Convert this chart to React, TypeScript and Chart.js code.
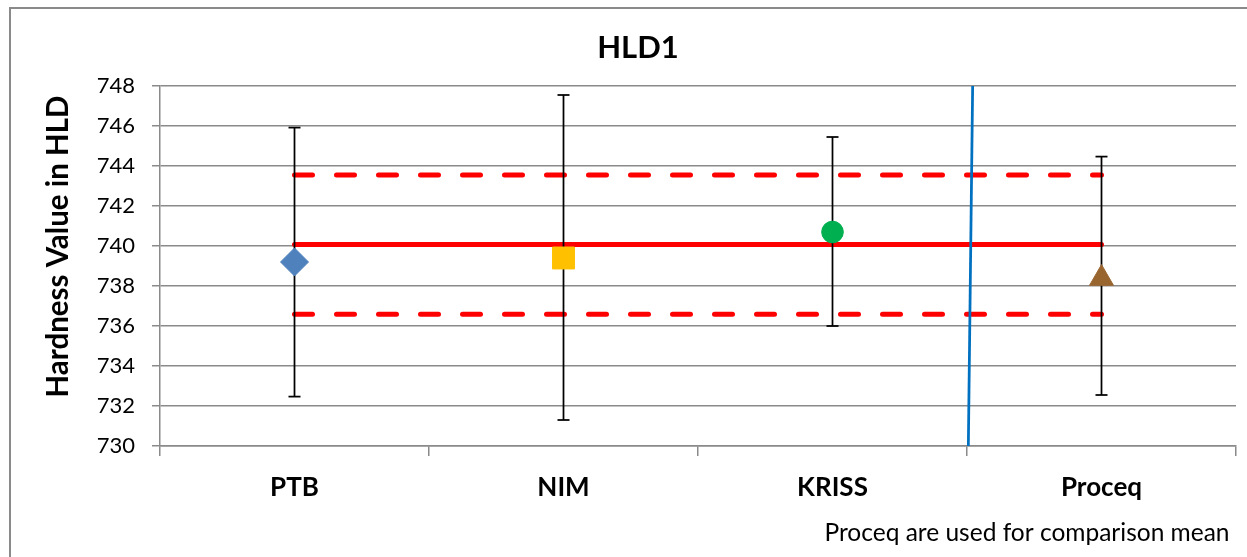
import React, { useEffect, useRef } from 'react';
import { Chart, registerables } from 'chart.js';

Chart.register(...registerables);

// ---- data ----
const chartTitle = 'HLD1';
const yAxisTitle = 'Hardness Value in HLD';
const footnote = 'Proceq are used for comparison mean';
const categories = ['PTB', 'NIM', 'KRISS', 'Proceq'];
const values = [739.2, 739.4, 740.7, 738.38];
const upperLimits = [745.92, 747.55, 745.45, 744.47];
const lowerLimits = [732.47, 731.3, 736.0, 732.55];
const referenceMean = 740.07;
const upperBand = 743.55;
const lowerBand = 736.59;
const dividerBottom = { x: 2.505, y: 730 };
const dividerTop = { x: 2.521, y: 748 };
const yMin = 730;
const yMax = 748;
const yStep = 2;

const markerStyles = ['rectRot', 'rect', 'circle', 'triangle'];
const markerRadii = [14, 15.5, 10.8, 13.8];
const markerColors = ['#4F81BD', '#FFC000', '#00B050', '#99652F'];

const FONT = 'Lato, "Open Sans", sans-serif';
const GRID = '#8a8a8a';

const framePlugin = {
  id: 'frameAndTexts',
  beforeDraw(chart: any) {
    const ctx = chart.ctx;
    ctx.save();
    ctx.strokeStyle = GRID;
    ctx.lineWidth = 2;
    ctx.strokeRect(10, 8, 1400, 700);
    ctx.restore();
  },
  afterDraw(chart: any) {
    const ctx = chart.ctx;
    ctx.save();
    ctx.fillStyle = '#000';
    ctx.textAlign = 'center';
    ctx.textBaseline = 'alphabetic';
    ctx.font = `bold 31px ${FONT}`;
    ctx.fillText(chartTitle, 638, 58);

    ctx.font = `24.5px ${FONT}`;
    ctx.fillText(footnote, 1027, 541);

    ctx.translate(68, 246.5);
    ctx.rotate(-Math.PI / 2);
    ctx.font = `bold 29.5px ${FONT}`;
    ctx.fillText(yAxisTitle, 0, 0);
    ctx.restore();
  },
};

function buildConfig(): any {
  const last = categories.length - 1;
  const lineDs = (y: number, dash: number[]) => ({
    data: [{ x: 0, y }, { x: last, y }],
    showLine: true,
    borderColor: '#FF0000',
    borderWidth: 5,
    borderCapStyle: 'round',
    borderDash: dash,
    pointRadius: 0,
    order: 3,
  });
  const errorDs = categories.map((_, i) => ({
    data: [{ x: i, y: lowerLimits[i] }, { x: i, y: upperLimits[i] }],
    showLine: true,
    borderColor: '#000',
    borderWidth: 1.75,
    pointStyle: 'line',
    pointRadius: 6,
    pointBorderWidth: 1.75,
    pointBorderColor: '#000',
    pointBackgroundColor: '#000',
    order: 2,
  }));
  return {
    type: 'scatter',
    data: {
      datasets: [
        lineDs(referenceMean, []),
        lineDs(upperBand, [18, 24]),
        lineDs(lowerBand, [18, 24]),
        ...errorDs,
        {
          data: [dividerBottom, dividerTop],
          showLine: true,
          borderColor: '#0070C0',
          borderWidth: 2.75,
          pointRadius: 0,
          order: 1,
        },
        {
          data: values.map((v, i) => ({ x: i, y: v })),
          showLine: false,
          pointStyle: markerStyles,
          pointRadius: markerRadii,
          pointBackgroundColor: markerColors,
          pointBorderColor: markerColors,
          pointBorderWidth: 1,
          order: 0,
        },
      ],
    },
    options: {
      responsive: false,
      animation: false,
      events: [],
      layout: { autoPadding: false, padding: { left: 0, right: 11, top: 86, bottom: 0 } },
      plugins: {
        legend: { display: false },
        tooltip: { enabled: false },
        title: { display: false },
      },
      scales: {
        x: {
          type: 'linear',
          min: -0.5,
          max: last + 0.5,
          afterBuildTicks: (s: any) => {
            const t: any[] = [];
            for (let v = -0.5; v <= last + 0.5 + 1e-9; v += 0.5) t.push({ value: v });
            s.ticks = t;
          },
          afterFit: (s: any) => {
            s.height = 111;
            s.paddingLeft = 0;
            s.paddingRight = 0;
          },
          ticks: {
            autoSkip: false,
            maxRotation: 0,
            minRotation: 0,
            padding: 16,
            color: '#000',
            font: { family: FONT, size: 26, weight: 'bold' },
            callback: (v: number) => (Number.isInteger(v) ? categories[v] : ''),
          },
          grid: {
            drawOnChartArea: false,
            tickLength: 10,
            lineWidth: 1.5,
            color: (c: any) =>
              c.tick && Number.isInteger(c.tick.value) ? 'rgba(0,0,0,0)' : GRID,
          },
          border: { color: GRID, width: 1.5 },
        },
        y: {
          min: yMin,
          max: yMax,
          afterFit: (s: any) => {
            s.width = 160;
          },
          ticks: {
            stepSize: yStep,
            padding: 17,
            color: '#000',
            font: { family: FONT, size: 22 },
          },
          grid: { color: GRID, lineWidth: 1.5, tickLength: 8 },
          border: { color: GRID, width: 1.5 },
        },
      },
    },
    plugins: [framePlugin],
  };
}

export default function App() {
  const ref = useRef<HTMLCanvasElement>(null);
  useEffect(() => {
    const chart = new Chart(ref.current as HTMLCanvasElement, buildConfig());
    return () => chart.destroy();
  }, []);
  return (
    <canvas
      ref={ref}
      width={1247}
      height={557}
      style={{ position: 'fixed', left: 0, top: 0, width: 1247, height: 557 }}
    />
  );
}
